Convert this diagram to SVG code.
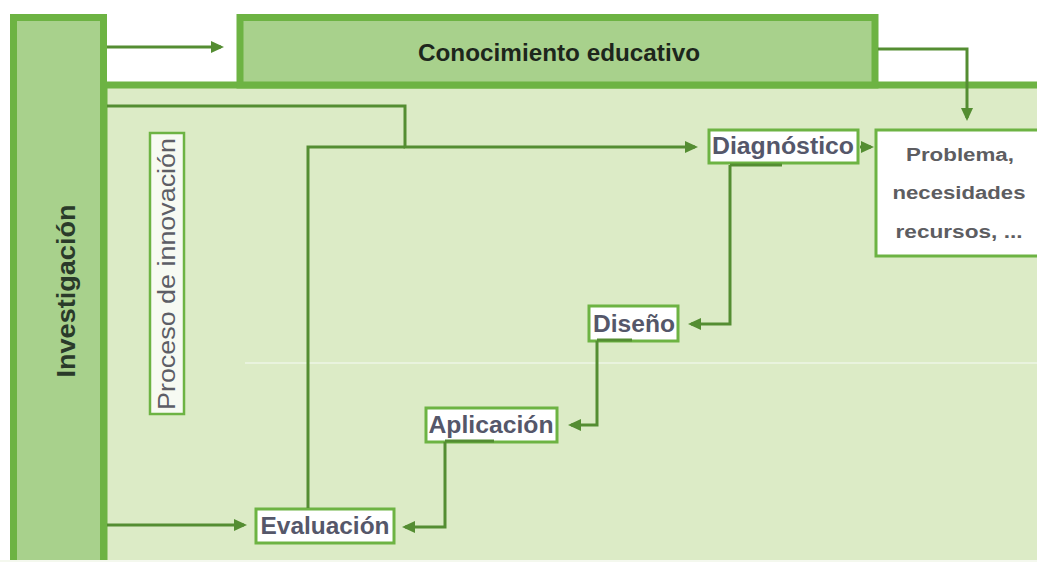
<svg xmlns="http://www.w3.org/2000/svg" width="1037" height="562" viewBox="0 0 1037 562">
<defs>
<style>
.frame{stroke:#6db343;stroke-width:7;}
.dark{fill:#a8d18c;}
.light{fill:#dcebc6;}
.box{fill:#ffffff;stroke:#6db343;stroke-width:3;}
.con{fill:none;stroke:#548d32;stroke-width:3;}
.lbl{font-family:"Liberation Sans",Arial,sans-serif;font-weight:bold;font-size:23px;fill:#55576a;text-anchor:middle;}
.prob{font-family:"Liberation Sans",Arial,sans-serif;font-weight:bold;font-size:18px;fill:#5d5d61;text-anchor:middle;}
</style>
<marker id="ah" markerUnits="userSpaceOnUse" markerWidth="14" markerHeight="13" refX="10" refY="6.5" orient="auto">
<path d="M0,0.5 L13,6.5 L0,12.5 z" fill="#548d32"/>
</marker>
</defs>
<rect width="1037" height="562" fill="#ffffff"/>

<g id="proceso-area">
<rect x="104" y="85" width="945" height="490" class="frame light"/>
<line x1="245" y1="363" x2="1037" y2="363" stroke="#e9f3de" stroke-width="2"/>
</g>

<g id="investigacion">
<rect x="13.5" y="17.5" width="90" height="560" class="frame dark"/>
<text transform="translate(75,291) rotate(-90)" font-family="Liberation Sans,Arial,sans-serif" font-weight="bold" font-size="25" fill="#2a3a2a" text-anchor="middle" textLength="173" lengthAdjust="spacingAndGlyphs">Investigación</text>
</g>

<rect x="0" y="560" width="1037" height="2" fill="#f4f8ee"/>

<g id="conocimiento">
<rect x="240" y="17.5" width="635" height="67.5" class="frame dark"/>
<text x="559" y="61" font-family="Liberation Sans,Arial,sans-serif" font-weight="bold" font-size="23" fill="#1d261c" text-anchor="middle" textLength="282" lengthAdjust="spacingAndGlyphs">Conocimiento educativo</text>
</g>

<g id="proceso-label">
<rect x="150" y="133" width="34" height="281" fill="#f7faf2" stroke="#6db343" stroke-width="2.5"/>
<text transform="translate(175,274) rotate(-90)" font-family="Liberation Sans,Arial,sans-serif" font-size="23" fill="#5d5e66" text-anchor="middle" textLength="272" lengthAdjust="spacingAndGlyphs">Proceso de innovación</text>
</g>

<g id="problema">
<rect x="876" y="130" width="175" height="126" class="box"/>
<text x="960" y="161" class="prob" textLength="108" lengthAdjust="spacingAndGlyphs">Problema,</text>
<text x="959" y="199" class="prob" textLength="133" lengthAdjust="spacingAndGlyphs">necesidades</text>
<text x="959" y="238" class="prob" textLength="127" lengthAdjust="spacingAndGlyphs">recursos, ...</text>
</g>

<g id="diagnostico">
<rect x="709" y="130" width="149" height="33" class="box"/>
<text x="783" y="154" class="lbl" textLength="142" lengthAdjust="spacingAndGlyphs">Diagnóstico</text>
</g>

<g id="diseno">
<rect x="589" y="306" width="89" height="35" class="box"/>
<text x="634" y="332" class="lbl" textLength="82" lengthAdjust="spacingAndGlyphs">Diseño</text>
</g>

<g id="aplicacion">
<rect x="426" y="408" width="131" height="34" class="box"/>
<text x="491" y="433" class="lbl" textLength="125" lengthAdjust="spacingAndGlyphs">Aplicación</text>
</g>

<g id="evaluacion">
<rect x="256" y="509" width="138" height="34" class="box"/>
<text x="325" y="534" class="lbl" textLength="129" lengthAdjust="spacingAndGlyphs">Evaluación</text>
</g>

<g id="connectors">
<path class="con" d="M107,47 H221" marker-end="url(#ah)"/>
<path class="con" d="M878,49 H967 V118" marker-end="url(#ah)"/>
<path class="con" d="M107,106 H405 V147 H695" marker-end="url(#ah)"/>
<path class="con" d="M308,508 V147 H405"/>
<path class="con" d="M860,147 H871" marker-end="url(#ah)"/>
<path class="con" d="M730,165 V324 H691" marker-end="url(#ah)"/>
<path class="con" d="M597,341 V425 H571" marker-end="url(#ah)"/>
<path class="con" d="M445,442 V527 H405" marker-end="url(#ah)"/>
<path class="con" d="M107,525 H244" marker-end="url(#ah)"/>
<path class="con" d="M730,165 H782"/>
<path class="con" d="M445,441 H494"/>
<path class="con" d="M597,340 H632"/>
</g>
</svg>
